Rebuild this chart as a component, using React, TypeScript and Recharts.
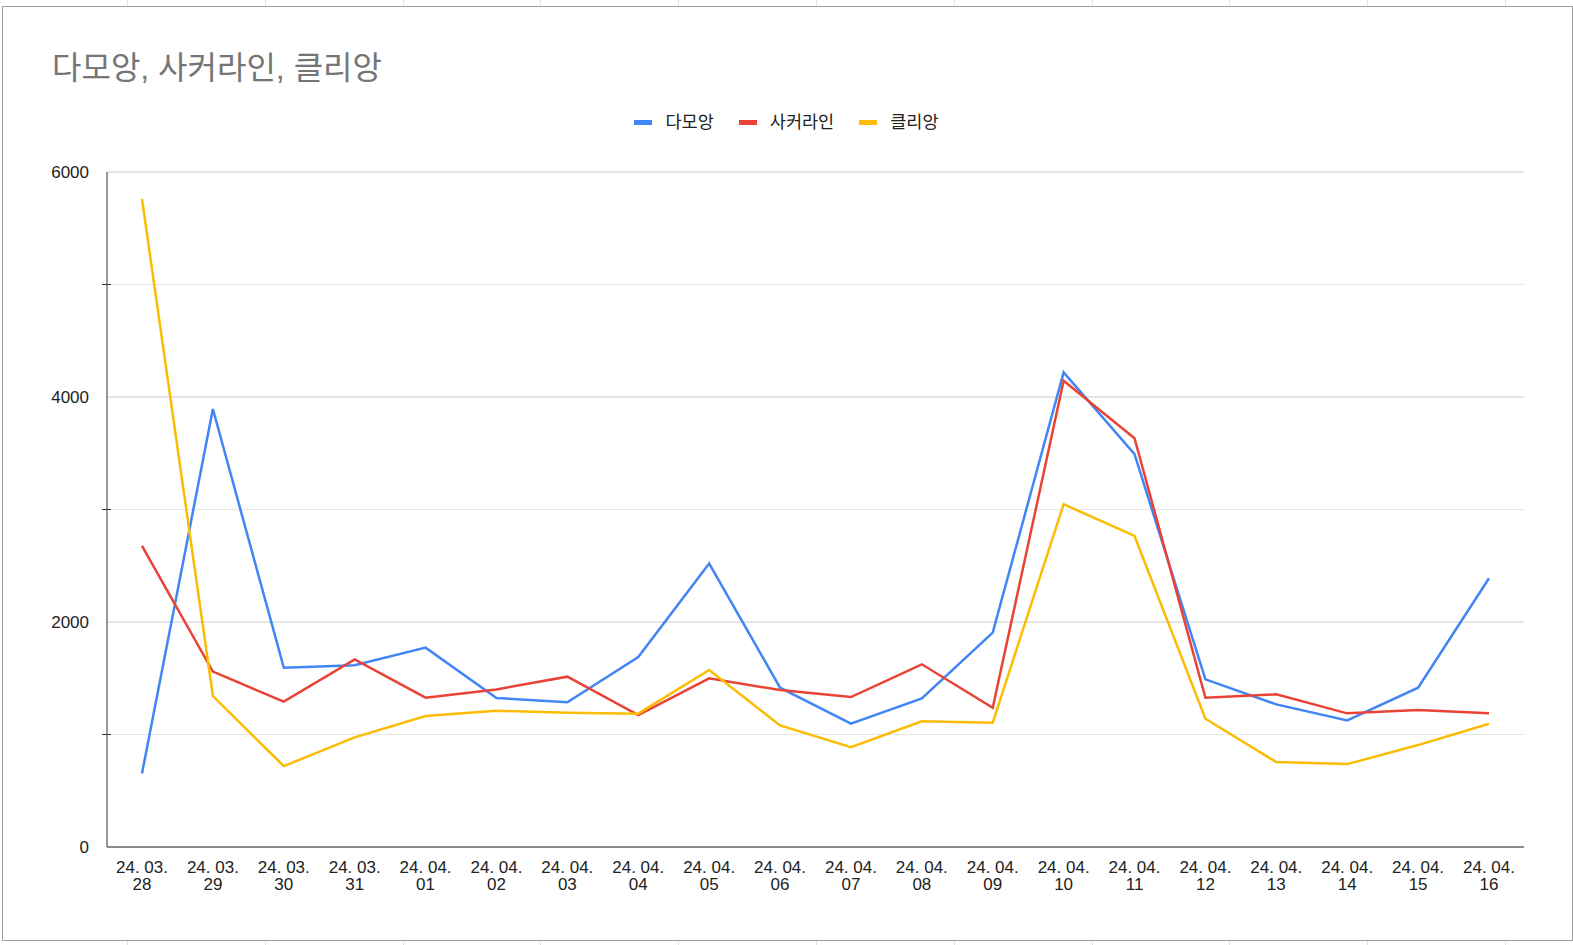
import { LineChart, Line, XAxis, YAxis, CartesianGrid } from 'recharts';

// 날짜 카테고리 (Google Sheets 표기 그대로 "YY. MM. DD")
const dates = [
  '24. 03. 28', '24. 03. 29', '24. 03. 30', '24. 03. 31', '24. 04. 01',
  '24. 04. 02', '24. 04. 03', '24. 04. 04', '24. 04. 05', '24. 04. 06',
  '24. 04. 07', '24. 04. 08', '24. 04. 09', '24. 04. 10', '24. 04. 11',
  '24. 04. 12', '24. 04. 13', '24. 04. 14', '24. 04. 15', '24. 04. 16',
];

const damoang = [654, 3893, 1594, 1615, 1772, 1324, 1286, 1689, 2519, 1416, 1096, 1321, 1906, 4219, 3492, 1490, 1268, 1125, 1416, 2389];
const soccerline = [2676, 1559, 1292, 1668, 1327, 1401, 1514, 1173, 1499, 1395, 1333, 1624, 1238, 4144, 3634, 1327, 1357, 1188, 1217, 1188];
const clien = [5760, 1342, 719, 974, 1164, 1211, 1194, 1185, 1573, 1081, 888, 1117, 1105, 3047, 2765, 1140, 755, 737, 906, 1096];

const yTicks = [0, 1000, 2000, 3000, 4000, 5000, 6000];
const majorTicks = [0, 2000, 4000, 6000];
const minorTicks = [1000, 3000, 5000];

const series = [
  { key: 'damoang', name: '다모앙', color: '#4285F4' },
  { key: 'soccerline', name: '사커라인', color: '#EA4335' },
  { key: 'clien', name: '클리앙', color: '#FBBC04' },
];

const data = dates.map((d, i) => ({
  date: d,
  damoang: damoang[i],
  soccerline: soccerline[i],
  clien: clien[i],
}));

const FONT = "Arial, 'Liberation Sans', 'Noto Sans CJK KR', sans-serif";
const TEXT = '#222222';

function DateTick({ x, y, payload }: any) {
  const s: string = payload.value;
  const cut = s.lastIndexOf(' ');
  return (
    <text x={x} y={y} textAnchor="middle" fill={TEXT} fontSize={17} fontFamily={FONT}>
      <tspan x={x} dy={26}>{s.slice(0, cut)}</tspan>
      <tspan x={x} dy={17}>{s.slice(cut + 1)}</tspan>
    </text>
  );
}

// 라벨은 2000 단위만, 나머지 보조 눈금은 축을 가로지르는 짧은 선
function ValueTick({ x, y, payload }: any) {
  if (majorTicks.includes(payload.value)) {
    return (
      <text x={x - 18} y={y + 6} textAnchor="end" fill={TEXT} fontSize={17} fontFamily={FONT}>
        {payload.value}
      </text>
    );
  }
  return <line x1={x - 5} x2={x + 4} y1={y} y2={y} stroke="#333" strokeWidth={1} />;
}

export default function App() {
  return (
    <div
      style={{
        position: 'absolute',
        left: 0,
        top: 0,
        width: 1573,
        height: 945,
        background: '#fff',
        backgroundImage:
          'repeating-linear-gradient(90deg, transparent 0 127px, #e3e3e3 127px 128px, transparent 128px 137.8px)',
        fontFamily: FONT,
        overflow: 'hidden',
      }}
    >
      <div
        style={{
          position: 'absolute',
          left: 2,
          top: 6,
          width: 1571,
          height: 935,
          boxSizing: 'border-box',
          border: '1px solid #9e9e9e',
          background: '#fff',
        }}
      />
      <div
        style={{
          position: 'absolute',
          left: 52,
          top: 52,
          fontSize: 32,
          lineHeight: '32px',
          color: '#757575',
          whiteSpace: 'nowrap',
        }}
      >
        다모앙, 사커라인, 클리앙
      </div>
      <div
        style={{
          position: 'absolute',
          left: 0,
          top: 114,
          width: 1573,
          display: 'flex',
          justifyContent: 'center',
          alignItems: 'center',
          fontSize: 17.5,
          lineHeight: '17.5px',
          color: TEXT,
        }}
      >
        {series.map((s, i) => (
          <div key={s.key} style={{ display: 'flex', alignItems: 'center', marginLeft: i === 0 ? 0 : 25 }}>
            <div style={{ width: 18, height: 5, background: s.color, marginRight: 13 }} />
            <span>{s.name}</span>
          </div>
        ))}
      </div>
      <div style={{ position: 'absolute', left: 0, top: 0 }}>
        <LineChart width={1573} height={945} data={data} margin={{ top: 172, right: 49, bottom: 38, left: 0 }}>
          <CartesianGrid vertical={false} horizontalValues={minorTicks} stroke="#e6e6e6" />
          <CartesianGrid vertical={false} horizontalValues={majorTicks} stroke="#cccccc" />
          <XAxis
            dataKey="date"
            interval={0}
            padding={{ left: 35, right: 35 }}
            height={60}
            tickSize={0}
            tickMargin={0}
            tickLine={false}
            axisLine={{ stroke: '#333', strokeWidth: 1 }}
            tick={<DateTick />}
          />
          <YAxis
            domain={[0, 6000]}
            ticks={yTicks}
            interval={0}
            width={107}
            tickSize={0}
            tickMargin={0}
            tickLine={false}
            axisLine={{ stroke: '#333', strokeWidth: 1 }}
            tick={<ValueTick />}
          />
          {series.map((s) => (
            <Line
              key={s.key}
              dataKey={s.key}
              name={s.name}
              stroke={s.color}
              strokeWidth={2.5}
              dot={false}
              activeDot={false}
              type="linear"
              isAnimationActive={false}
            />
          ))}
        </LineChart>
      </div>
    </div>
  );
}
